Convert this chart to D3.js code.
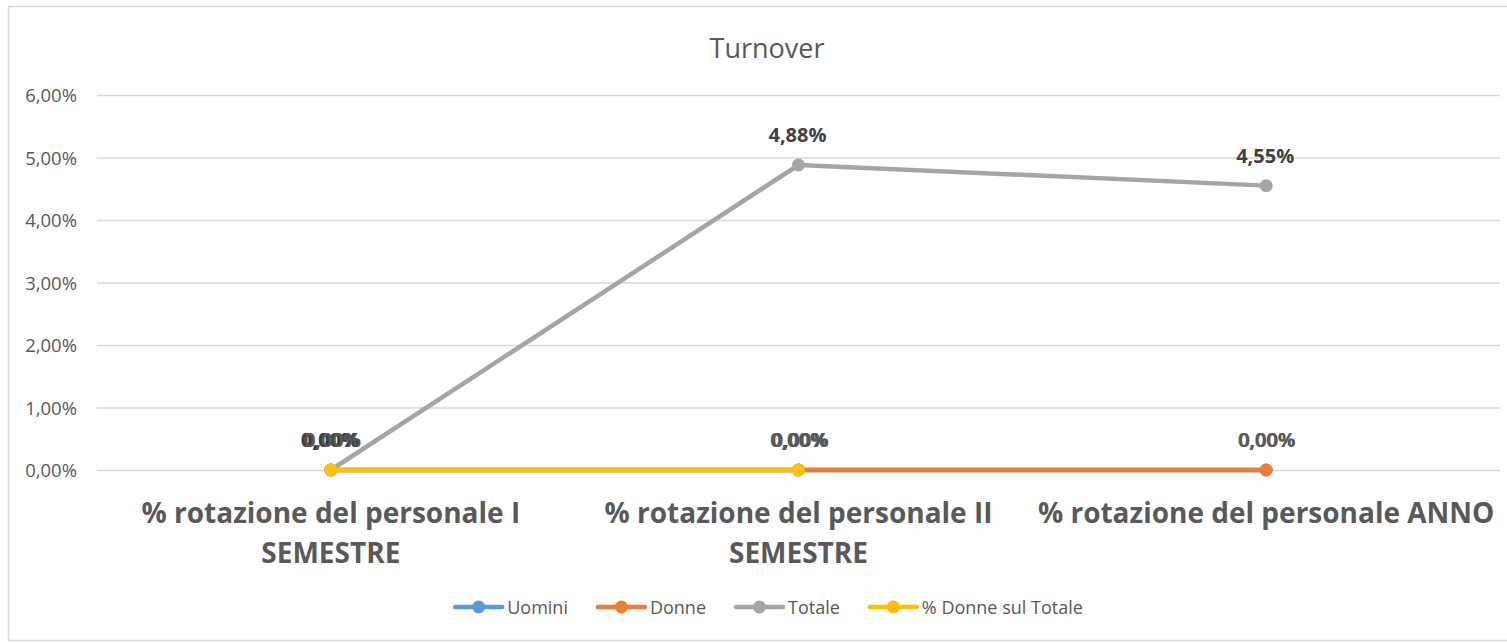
<!DOCTYPE html>
<html><head><meta charset="utf-8">
<script src="https://cdn.jsdelivr.net/npm/d3@7"></script>
<style>
html,body{margin:0;padding:0;background:#fff;}
svg{display:block;font-family:"Open Sans",sans-serif;}
</style></head>
<body>
<svg id="c" width="1507" height="643"></svg>
<script>
const title = "Turnover";
const categories = [
  "% rotazione del personale I SEMESTRE",
  "% rotazione del personale II SEMESTRE",
  "% rotazione del personale ANNO"
];
const seriesNames = ["Uomini", "Donne", "Totale", "% Donne sul Totale"];
const uomini = [0, 0, 0];
const donne = [0, 0, 0];
const totale = [0, 0.0488, 0.0455];
const donnePct = [0, 0, null];
const yTicks = [0, 0.01, 0.02, 0.03, 0.04, 0.05, 0.06];
const colors = ["#5B9BD5", "#ED7D31", "#A5A5A5", "#FFC000"];

const series = [
  {name: seriesNames[0], values: uomini, color: colors[0], bold: false, dx: 0},
  {name: seriesNames[1], values: donne, color: colors[1], bold: false, dx: 1},
  {name: seriesNames[2], values: totale, color: colors[2], bold: true, dx: -1},
  {name: seriesNames[3], values: donnePct, color: colors[3], bold: false, dx: 2}
];

const fmt = v => (v * 100).toFixed(2).replace(".", ",") + "%";

const svg = d3.select("#c");
const W = 1507;
svg.append("rect").attr("x", 8.5).attr("y", 6.5).attr("width", W + 10).attr("height", 634)
  .attr("fill", "#fff").attr("stroke", "#D9D9D9").attr("stroke-width", 1.5);

const x = d3.scaleBand().domain(categories).range([97, 1500]);
const y = d3.scaleLinear().domain([0, 0.06]).range([470, 95]);

svg.append("text").attr("x", 767).attr("y", 58).attr("text-anchor", "middle")
  .attr("font-size", 27).attr("fill", "#595959").text(title);

const yAxis = d3.axisLeft(y).tickValues(yTicks).tickFormat(fmt).tickSize(-(1500 - 97)).tickPadding(20);
const gy = svg.append("g").attr("transform", "translate(97,0)").call(yAxis);
gy.select(".domain").remove();
gy.selectAll(".tick line").attr("stroke", "#D9D9D9").attr("stroke-width", 1.3);
gy.selectAll(".tick text").attr("font-size", 18.5).attr("fill", "#595959")
  .attr("font-family", "'Open Sans',sans-serif").attr("dy", "0.36em");

const xAxis = d3.axisBottom(x).tickSize(0).tickPadding(0);
const gx = svg.append("g").attr("transform", "translate(0,470)").call(xAxis);
gx.select(".domain").remove();
gx.selectAll(".tick text").each(function(d) {
  const t = d3.select(this);
  t.text(null).attr("font-size", 28).attr("font-weight", "bold").attr("fill", "#595959")
   .attr("font-family", "'Open Sans',sans-serif").attr("y", 0).attr("dy", 0);
  const words = d.split(" ");
  const maxW = x.bandwidth() - 4;
  let lines = [], cur = [];
  const tspan = t.append("tspan");
  words.forEach(w => {
    cur.push(w);
    tspan.text(cur.join(" "));
    if (tspan.node().getComputedTextLength() > maxW && cur.length > 1) {
      cur.pop();
      lines.push(cur.join(" "));
      cur = [w];
    }
  });
  lines.push(cur.join(" "));
  t.text(null);
  lines.forEach((l, i) => {
    t.append("tspan").attr("x", 0).attr("y", 53 + i * 40).text(l);
  });
});

const cx = c => x(c) + x.bandwidth() / 2;

series.forEach(s => {
  const pts = categories.map((c, i) => ({c, v: s.values[i]}));
  const line = d3.line().defined(d => d.v !== null).x(d => cx(d.c)).y(d => y(d.v));
  svg.append("path").datum(pts).attr("d", line).attr("fill", "none")
    .attr("stroke", s.color).attr("stroke-width", 4.5).attr("stroke-linejoin", "round").attr("stroke-linecap", "round");
  svg.append("g").selectAll("circle").data(pts.filter(d => d.v !== null)).join("circle")
    .attr("cx", d => cx(d.c)).attr("cy", d => y(d.v)).attr("r", 6.5).attr("fill", s.color);
});

series.forEach(s => {
  const pts = categories.map((c, i) => ({c, v: s.values[i]})).filter(d => d.v !== null);
  svg.append("g").selectAll("text").data(pts).join("text")
    .attr("x", d => cx(d.c) + s.dx).attr("y", d => y(d.v) - 23)
    .attr("text-anchor", "middle").attr("font-size", 20)
    .attr("font-weight", s.bold ? "bold" : "600")
    .attr("fill", s.bold ? "#404040" : "#595959").text(d => fmt(d.v));
});

const lg = svg.append("g");
let lx = 0;
seriesNames.forEach((n, i) => {
  const g = lg.append("g").attr("transform", `translate(${lx},0)`);
  g.append("line").attr("x1", 2).attr("x2", 49).attr("y1", 0).attr("y2", 0)
    .attr("stroke", colors[i]).attr("stroke-width", 4.5).attr("stroke-linecap", "round");
  g.append("circle").attr("cx", 25.5).attr("cy", 0).attr("r", 6.5).attr("fill", colors[i]);
  const t = g.append("text").attr("x", 54).attr("y", 7).attr("font-size", 18).attr("fill", "#595959").text(n);
  lx += 54 + t.node().getComputedTextLength() + 28;
});
lx -= 28;
lg.attr("transform", `translate(${(768 - lx / 2)},607)`);
</script>
</body></html>
